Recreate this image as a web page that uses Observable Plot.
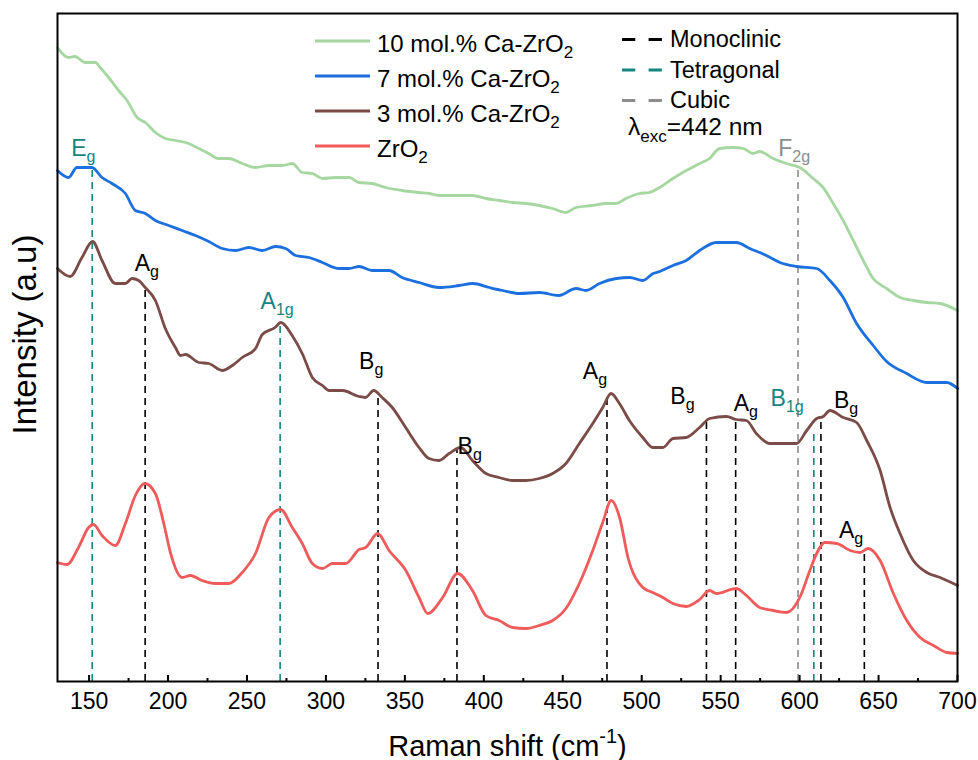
<!DOCTYPE html>
<html>
<head>
<meta charset="utf-8">
<script src="https://cdn.jsdelivr.net/npm/d3@7"></script>
<script src="https://cdn.jsdelivr.net/npm/@observablehq/plot@0.6"></script>
<style>
  body { margin: 0; background: #fff; }
</style>
</head>
<body>
<div id="chart"></div>
<script>
// Raman spectra of Ca-doped ZrO2, excitation at 442 nm (intensity in arbitrary units, stacked)

const seriesNames = ["10 mol.% Ca-ZrO_{2}", "7 mol.% Ca-ZrO_{2}", "3 mol.% Ca-ZrO_{2}", "ZrO_{2}"];
const seriesColors = ["#a6d7a1", "#1b6fdf", "#7b4b47", "#ef5a5a"];

// [Raman shift (cm-1), intensity (a.u.)]
const ca10 = [
  [130,634],[137,624],[141,625],[147.6,619],[154,619],[157,614],[162.4,604],[168.7,591],[174,581],[180.4,564],
  [185.6,559],[192,549],[198.3,543],[204.7,541],[213,538],[219.5,533],[225.8,528],[232,523],[238.5,523],[247,518],
  [255.4,514],[263.9,516],[272.4,516],[278.7,518],[285,509],[291.4,508],[297.8,503],[306.2,504],[314.7,504],[321,499],
  [329.3,498],[337.8,494],[348.3,491],[359,489],[365.3,488],[371.7,486],[384.4,486],[392.8,486],[401.3,483],[409.7,481],
  [418.2,479],[426.7,478],[435.1,476],[443.6,473],[452,469],[458.4,474],[469,476],[477.4,478],[483.8,478],[490.1,483],
  [498.6,488],[504.9,489],[511.3,494],[519.8,503],[528.2,511],[536.7,518],[543,523],[549.3,533],[557.8,534],[564.2,533],
  [570.5,528],[574.8,530],[583.2,523],[591.7,518],[600.1,514],[608.6,503],[614.9,494],[621.3,478],[627.6,461],[634,441],
  [640.3,421],[646.6,403],[655.1,393],[663.6,384],[672,381],[680.5,379],[689,378],[700,371]
];
const ca7 = [
  [130,511],[137,504],[142.3,514],[151.8,514],[158.2,504],[164.5,498],[173,488],[179.3,471],[185.6,468],[192,461],
  [200.4,456],[208.9,451],[217.4,446],[225.8,440],[234.3,433],[242.8,431],[251.2,434],[259.7,431],[268.1,435],[274.5,433],
  [280.8,426],[289.3,424],[297.8,419],[308.3,413],[314.7,413],[321,415],[329.3,411],[340,411],[348.3,404],[359,399],
  [371.7,394],[384.4,396],[393,398],[403.5,394],[412,391],[422.5,388],[435.1,389],[447.5,386],[458.4,393],[464.8,391],
  [473.3,398],[483.9,403],[492.3,404],[500.8,401],[507.2,408],[511.4,410],[519.8,416],[528.2,421],[536.7,431],[547.2,439],
  [559.9,439],[568.4,433],[579,426],[587.5,419],[598.1,415],[610.8,413],[619.2,401],[627.6,384],[636.1,358],[646.6,336],
  [655.1,320],[667.8,308],[680.5,299],[693.2,299],[700,293]
];
const ca3 = [
  [130,413],[138,405],[145.5,424],[152.2,440],[158.2,421],[166.6,398],[173,398],[177.2,403],[181.4,401],[185.6,394],
  [192,381],[198.3,353],[204.7,334],[207.9,326],[211,327],[219.5,319],[225.8,318],[234.3,311],[240.7,316],[247,324],
  [255.4,333],[259.7,347],[267.8,354],[271.5,359],[278.6,346],[285,328],[291.4,304],[297.8,296],[302,291],[310.5,291],
  [321,285],[325,284],[330.3,291],[335.6,284],[342,274],[350.5,254],[359,234],[365.3,223],[371.7,221],[378,228],
  [385.4,234],[392.8,221],[401.3,208],[409.7,204],[418.2,201],[426.7,201],[435.1,203],[443.6,208],[452,218],[460.5,238],
  [469,258],[475.3,274],[480.6,288],[485.9,278],[492.2,261],[500.7,244],[507,234],[513.4,234],[519.8,243],[528.2,244],
  [536.7,254],[543,263],[553.6,265],[559.9,262],[566.3,261],[572.6,248],[581.1,238],[587.5,238],[598.1,238],[604.5,251],
  [610.8,263],[615,265],[619.2,271],[627.6,264],[636.1,259],[642.5,241],[651,211],[657.3,174],[663.6,148],[672,121],
  [680.5,109],[689,104],[700,96]
];
const zro2 = [
  [130,119],[136,117],[143.3,134],[149.7,154],[152.8,157],[158.2,146],[166.6,136],[173,158],[179.3,186],[185.2,198],
  [192,188],[197.3,158],[201.5,129],[208.9,104],[214.2,106],[221.6,101],[230.1,98],[238.5,98],[247,109],[255.4,128],
  [263.9,164],[271.3,172],[278.7,154],[285,138],[291.4,118],[297.8,113],[304.1,118],[312.6,118],[321,132],[325.2,134],
  [332.7,148],[340,131],[350.6,111],[359,84],[364.4,68],[373.9,84],[383.4,108],[392.8,91],[401.3,66],[409.7,61],
  [418.2,54],[426.7,53],[435.1,56],[443.6,61],[452,73],[460.5,98],[469,131],[475.3,159],[480.7,181],[486,164],
  [491.3,124],[500.7,94],[507,89],[513.4,84],[519.8,78],[528.2,75],[536.7,82],[543,91],[547.3,88],[559.9,93],
  [566.3,86],[574.8,74],[583.2,71],[591.7,69],[600.1,84],[606.5,111],[610.8,128],[616,139],[623.5,138],[632,131],
  [638.3,129],[643.4,133],[651,121],[659.4,88],[667.9,61],[676.3,44],[684.8,36],[693.2,29],[700,28]
];

// Assigned Raman modes: position, phase, top of the guide line, label and label anchor
const phaseNames = ["Monoclinic", "Tetragonal", "Cubic"];
const phaseColors = ["#000000", "#14857f", "#8c8c8c"];
const peakShift = [152, 185.5, 271, 333, 383, 478, 541, 559.5, 599, 609, 613.5, 641];
const peakPhase = ["Tetragonal", "Monoclinic", "Tetragonal", "Monoclinic", "Monoclinic", "Monoclinic",
                   "Monoclinic", "Monoclinic", "Cubic", "Tetragonal", "Monoclinic", "Monoclinic"];
const peakTop = [513, 394, 356, 288, 233, 286, 259, 259, 514, 251, 263, 131];
const peakLabel = ["E_{g}", "A_{g}", "A_{1g}", "B_{g}", "B_{g}", "A_{g}", "B_{g}", "A_{g}", "F_{2g}", "B_{1g}", "B_{g}", "A_{g}"];
const labelShift = [138.7, 178.9, 258.6, 321, 383.4, 462.7, 518.1, 558.3, 586.5, 581.6, 621.8, 624.9];
const labelInt = [526, 411, 373, 313, 228, 303, 278, 271, 526, 276, 274, 144];

const xTicks = [150, 200, 250, 300, 350, 400, 450, 500, 550, 600, 650, 700];
const xMinorTicks = [175, 225, 275, 325, 375, 425, 475, 525, 575, 625, 675];
const excitation = "λ_{exc}=442 nm";

const FONT = "'Liberation Sans', Arial, Helvetica, sans-serif";
const phaseColor = p => phaseColors[phaseNames.indexOf(p)];

const spectra = [ca10, ca7, ca3, zro2].map((pts, i) => ({
  name: seriesNames[i],
  color: seriesColors[i],
  rows: pts.map(([shift, intensity]) => ({shift, intensity}))
}));

const peaks = peakShift.map((shift, i) => ({
  shift, phase: peakPhase[i], top: peakTop[i],
  label: peakLabel[i], lx: labelShift[i], ly: labelInt[i]
}));

const chart = Plot.plot({
  width: 978,
  height: 760,
  marginLeft: 57,
  marginRight: 21,
  marginTop: 13,
  marginBottom: 79,
  style: {fontFamily: FONT, background: "#fff", color: "#000"},
  x: {domain: [130, 700]},
  y: {domain: [0, 668], axis: null},
  marks: [
    // dashed guide lines from each assigned peak down to the axis
    ...phaseNames.map(ph => Plot.ruleX(peaks.filter(d => d.phase === ph), {
      x: "shift", y1: 0, y2: "top",
      stroke: phaseColor(ph), strokeWidth: 1.6, strokeDasharray: "7,5"
    })),
    // spectra
    ...spectra.map(s => Plot.line(s.rows, {
      x: "shift", y: "intensity", stroke: s.color, strokeWidth: 2.8,
      curve: "monotone-x", strokeLinejoin: "round", strokeLinecap: "round"
    })),
    // mode labels
    Plot.text(peaks, {
      x: "lx", y: "ly", text: "label",
      fill: d => phaseColor(d.phase),
      textAnchor: "start", lineAnchor: "bottom", fontSize: 23
    }),
    // inward ticks on the bottom axis
    Plot.tickX(xTicks, {x: d => d, insetTop: 662, stroke: "#000", strokeWidth: 2}),
    Plot.tickX(xMinorTicks, {x: d => d, insetTop: 665, stroke: "#000", strokeWidth: 2}),
    Plot.axisX(xTicks, {tickSize: 0, tickPadding: 11, fontSize: 23, label: null}),
    Plot.frame({stroke: "#000", strokeWidth: 2}),
    // axis titles
    Plot.text(["Raman shift (cm^{-1})"], {
      text: d => d, frameAnchor: "bottom", dy: 74, lineAnchor: "bottom", fontSize: 29
    }),
    Plot.text(["Intensity (a.u)"], {
      text: d => d, frameAnchor: "left", textAnchor: "middle", rotate: -90,
      dx: -32, dy: -13, fontSize: 33
    })
  ]
});

document.getElementById("chart").appendChild(chart);

// Rich text: "_{...}" becomes a subscript, "^{...}" a superscript
function setRich(el, s) {
  const fs = parseFloat(getComputedStyle(el).fontSize) || 22;
  const small = Math.round(fs * 0.7);
  const subShift = fs * 0.28, supShift = -fs * 0.43;
  const t = d3.select(el);
  t.text(null);
  let cur = 0, last = 0, m;
  const re = /([_^])\{([^}]*)\}/g;
  const put = (str, off, size) => {
    if (!str) return;
    const sp = t.append("tspan").text(str);
    if (off - cur !== 0) sp.attr("dy", off - cur);
    if (size) sp.attr("font-size", size);
    cur = off;
  };
  while ((m = re.exec(s)) !== null) {
    put(s.slice(last, m.index), 0);
    put(m[2], m[1] === "_" ? subShift : supShift, small);
    last = re.lastIndex;
  }
  put(s.slice(last), 0);
}

const svg = d3.select(chart);

// Legend: spectra
const leg = svg.append("g").attr("font-family", FONT).attr("font-size", 24)
  .attr("fill", "#000").attr("text-anchor", "start");
seriesNames.forEach((name, i) => {
  const y = 41 + i * 35;
  leg.append("line").attr("x1", 315).attr("x2", 370).attr("y1", y).attr("y2", y)
    .attr("stroke", seriesColors[i]).attr("stroke-width", 3);
  leg.append("text").attr("x", 377).attr("y", y + 10.5).text(name);
});

// Legend: phases and excitation wavelength
const leg2 = svg.append("g").attr("font-family", FONT).attr("font-size", 23.5)
  .attr("fill", "#000").attr("text-anchor", "start");
phaseNames.forEach((name, i) => {
  const y = 39.5 + i * 30.5;
  leg2.append("line").attr("x1", 622).attr("x2", 662).attr("y1", y).attr("y2", y)
    .attr("stroke", phaseColors[i]).attr("stroke-width", 3).attr("stroke-dasharray", "13.3,13.3");
  leg2.append("text").attr("x", 670).attr("y", y + 7.5).text(name);
});
leg2.append("text").attr("x", 628).attr("y", 135).attr("font-size", 24.5).text(excitation);

// Apply sub/superscripts to every text carrying the markup
svg.selectAll("text").each(function () {
  const s = this.textContent;
  if (/[_^]\{/.test(s)) setRich(this, s);
});
</script>
</body>
</html>
